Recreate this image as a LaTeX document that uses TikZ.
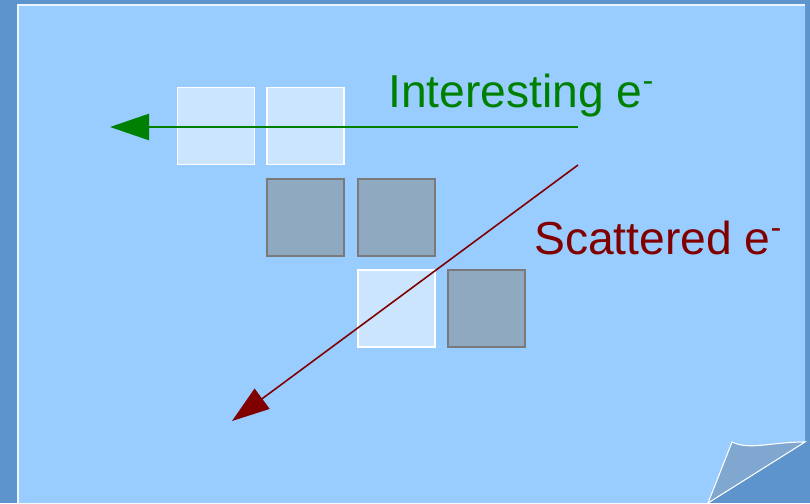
\documentclass[tikz,border=0pt]{standalone}
\usepackage{fontspec}
\setmainfont{Liberation Sans}
\usetikzlibrary{arrows.meta}
\definecolor{fondoAzul}{RGB}{94,148,204}
\definecolor{hojaAzul}{RGB}{153,204,255}
\definecolor{pliegueAzul}{RGB}{128,167,207}
\definecolor{celdaClara}{RGB}{204,229,255}
\definecolor{celdaOscura}{RGB}{143,169,192}
\definecolor{bordeGris}{RGB}{122,122,122}
\definecolor{verdeE}{RGB}{0,128,0}
\definecolor{rojoE}{RGB}{128,0,0}

\begin{document}
\begin{tikzpicture}[
    clara/.style={draw=white, fill=celdaClara, line width=0.6pt, minimum size=1.54cm, inner sep=0pt},
    oscura/.style={draw=bordeGris, fill=celdaOscura, line width=0.6pt, minimum size=1.54cm, inner sep=0pt},
    etiqueta/.style={anchor=base west, inner sep=0pt, font=\fontsize{26.3}{30}\selectfont}
  ]
            % FONDO
            \fill[fondoAzul] (0,0) rectangle (16.2,10.06);
            \useasboundingbox (0,0) rectangle (16.2,10.06);

            % HOJA
            \fill[hojaAzul] (0.36,0) -- (0.36,9.96) -- (16.1,9.96) -- (16.1,1.22) -- (14.16,0) -- cycle;
            \draw[white!80!hojaAzul, line width=0.7pt] (0.36,0) -- (0.36,9.96) -- (16.1,9.96);

            % Esquina doblada
            \filldraw[fill=pliegueAzul, draw=white, line width=0.6pt]
            (14.64,1.22) .. controls (15.0,1.05) and (15.4,1.22) .. (16.1,1.22) -- (14.16,0) -- cycle;

            % CELDAS
            \node[clara]  (c1) at (4.32,7.54) {};
            \node[clara]  (c2) at (6.11,7.54) {};
            \node[oscura] (c3) at (6.11,5.71) {};
            \node[oscura] (c4) at (7.93,5.71) {};
            \node[clara]  (c5) at (7.93,3.89) {};
            \node[oscura] (c6) at (9.73,3.89) {};

            % ELECTRONES
            \coordinate (inicioV) at (11.56,7.52);
            \coordinate (finV) at (2.2,7.52);
            \coordinate (inicioR) at (11.56,6.76);
            \coordinate (finR) at (4.64,1.64);

            \draw[verdeE, line width=1.4pt, -{Triangle[length=0.78cm, width=0.52cm]}] (inicioV) -- (finV);
            \draw[rojoE, line width=0.9pt, -{Triangle[length=0.75cm, width=0.5cm]}] (inicioR) -- (finR);

            % ETIQUETAS
            \node[etiqueta, text=verdeE] (interesante) at (7.76,7.92) {Interesting e\textsuperscript{-}};
            \node[etiqueta, text=rojoE] (dispersado) at (10.68,4.98) {Scattered e\textsuperscript{-}};
        \end{tikzpicture}
\end{document}
